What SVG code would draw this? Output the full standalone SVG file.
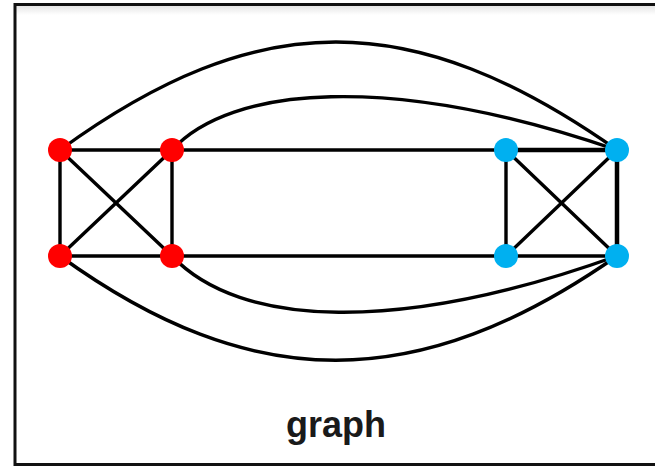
<svg xmlns="http://www.w3.org/2000/svg" width="655" height="467" viewBox="0 0 655 467">
<defs>
<linearGradient id="shade" x1="0" y1="0" x2="0" y2="1">
<stop offset="0" stop-color="#e6e6e6"/>
<stop offset="1" stop-color="#ffffff"/>
</linearGradient>
</defs>
<style>
.e{fill:none;stroke:#000;stroke-width:3.4;stroke-linecap:round}
.red{fill:#ff0000}
.blue{fill:#00b0f0}
.lbl{font-family:"Liberation Sans",Arial,sans-serif;font-weight:bold;font-size:36px;fill:#1a1a1a}
</style>
<rect x="0" y="0" width="655" height="467" fill="#fff"/>
<rect x="16" y="6" width="650" height="9" fill="url(#shade)"/>
<rect x="15" y="4.5" width="700" height="460" fill="none" stroke="#111" stroke-width="3"/>
<g id="connectors">
<path class="e" d="M60,150 L172,150 L172,256 L60,256 Z"/>
<path class="e" d="M60,150 L172,256 M172,150 L60,256"/>
<path class="e" d="M506,150 L617,150 L617,256 L506,256 Z"/>
<path class="e" d="M506,150 L617,256 M617,150 L506,256"/>
<path class="e" d="M617,150 L617,256 M506,150 L617,150" style="stroke-width:4.5"/>
<path class="e" d="M172,150 L506,150 M172,256 L506,256"/>
<path class="e" d="M60,150 C258,6 412,6 617,150"/>
<path class="e" d="M172,150 C230,86 390,72 617,150"/>
<path class="e" d="M172,256 C240,328 400,334 617,256"/>
<path class="e" d="M60,256 C252,395 418,395 617,256"/>
</g>
<g id="n1"><circle class="red" cx="60" cy="150" r="12"/></g>
<g id="n2"><circle class="red" cx="172" cy="150" r="12"/></g>
<g id="n3"><circle class="red" cx="60" cy="256" r="12"/></g>
<g id="n4"><circle class="red" cx="172" cy="256" r="12"/></g>
<g id="n5"><circle class="blue" cx="506" cy="150" r="12"/></g>
<g id="n6"><circle class="blue" cx="617" cy="150" r="12"/></g>
<g id="n7"><circle class="blue" cx="506" cy="256" r="12"/></g>
<g id="n8"><circle class="blue" cx="617" cy="256" r="12"/></g>
<g id="label"><text class="lbl" x="336" y="437" text-anchor="middle">graph</text></g>
</svg>
